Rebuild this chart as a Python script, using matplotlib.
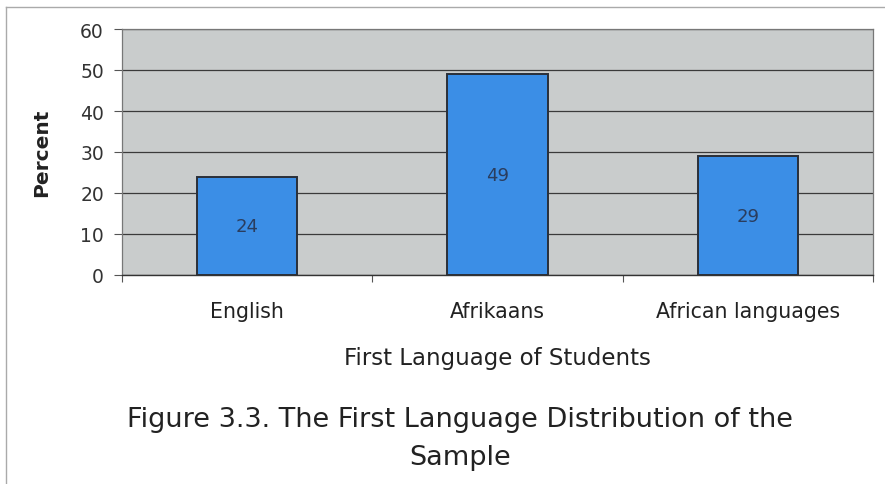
import matplotlib
matplotlib.use("Agg")
import matplotlib.pyplot as plt
from matplotlib.lines import Line2D

categories = ["English", "Afrikaans", "African languages"]
percent = [24, 49, 29]
y_ticks = [0, 10, 20, 30, 40, 50, 60]

plt.rcParams['font.family'] = ['DejaVu Sans']

fig = plt.figure(figsize=(8.85, 4.85), dpi=100)
fig.patch.set_facecolor("white")
ax = fig.add_axes([122 / 885, 209 / 485, 751 / 885, 246 / 485])
ax.set_facecolor("#c9cccc")

x = list(range(len(categories)))
bars = ax.bar(x, percent, width=0.4, color="#3b8ee6", edgecolor="#2a2f38",
              linewidth=1.4, zorder=3)
for xi, v in zip(x, percent):
    ax.text(xi, v / 2, str(v), ha="center", va="center", fontsize=13,
            color="#2a3d5e", zorder=4)

ax.set_xlim(-0.5, len(categories) - 0.5)
ax.set_ylim(0, 60)
ax.set_yticks(y_ticks)
ax.yaxis.grid(True, color="#3a3a3a", linewidth=0.9, zorder=1)
ax.set_axisbelow(True)

ax.set_xticks([i - 0.5 for i in range(len(categories) + 1)], minor=False)
ax.set_xticklabels([""] * (len(categories) + 1))
ax.set_xticks(x, minor=True)
ax.set_xticklabels(categories, minor=True, fontsize=14.8, color="#222222")
ax.tick_params(axis="x", which="minor", length=0, pad=19)
ax.tick_params(axis="x", which="major", length=5, color="#555555", direction="out")
ax.tick_params(axis="y", length=6, color="#555555", labelsize=13.5,
               labelcolor="#333333", pad=7)

for side in ["left", "right", "top"]:
    ax.spines[side].set_color("#777777")
    ax.spines[side].set_linewidth(0.9)
ax.spines["bottom"].set_color("#333333")
ax.spines["bottom"].set_linewidth(1.0)

ax.set_ylabel("Percent", fontsize=14.5, fontweight="bold", color="#222222", labelpad=21)
ax.set_xlabel("First Language of Students", fontsize=16.5, color="#222222", labelpad=18)

fig.text(460 / 885, 1 - 420 / 485, "Figure 3.3. The First Language Distribution of the",
         ha="center", va="center", fontsize=19.5, color="#222222")
fig.text(460 / 885, 1 - 458 / 485, "Sample", ha="center", va="center",
         fontsize=19.5, color="#222222")

# outer page frame
fig.add_artist(Line2D([6 / 885, 1.0], [1 - 8 / 485, 1 - 8 / 485],
                      transform=fig.transFigure, color="#aaaaaa", linewidth=1.0))
fig.add_artist(Line2D([6 / 885, 6 / 885], [0, 1 - 8 / 485],
                      transform=fig.transFigure, color="#aaaaaa", linewidth=1.0))

fig.savefig("out.png", dpi=100)
